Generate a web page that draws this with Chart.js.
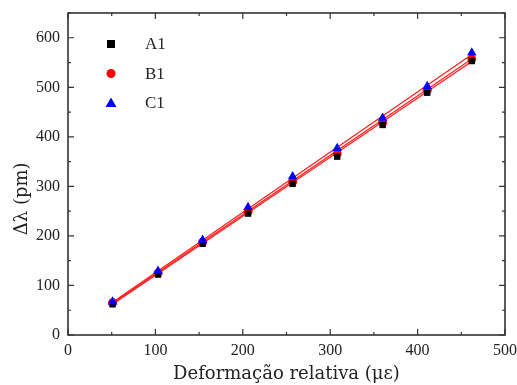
<!DOCTYPE html>
<html>
<head>
<meta charset="utf-8">
<script src="https://cdn.jsdelivr.net/npm/chart.js@4/dist/chart.umd.min.js"></script>
<style>
  html, body { margin: 0; padding: 0; background: #fff; }
  #wrap { width: 517px; height: 385px; position: relative; }
</style>
</head>
<body>
<div id="wrap"><canvas id="c"></canvas></div>
<script>
// ---- data ----
const strain = [51, 103, 154, 206, 257, 308, 360, 411, 462];
const seriesA1 = [62, 122, 184, 245, 305, 360, 424, 489, 553];
const seriesB1 = [65, 125, 187, 249, 309, 366, 429, 494, 557];
const seriesC1 = [67, 129, 192, 258, 320, 377, 438, 502, 570];
// linear fit lines (endpoints)
const fitX = [51, 462];
const fitA1 = [62, 552];
const fitB1 = [64, 557];
const fitC1 = [66, 566];
const seriesNames = ['A1', 'B1', 'C1'];
const xTicks = [0, 100, 200, 300, 400, 500];
const yTicks = [0, 100, 200, 300, 400, 500, 600];
const xTitle = 'Deformação relativa (με)';
const yTitle = 'Δλ (pm)';

const FONT = "'Liberation Serif', 'DejaVu Serif', serif";
const TFONT = "'DejaVu Serif', 'Liberation Serif', serif";
const toPts = (xs, ys) => xs.map((x, i) => ({ x: x, y: ys[i] }));

const fitStyle = { type: 'line', showLine: true, borderColor: '#ff1a1a', borderWidth: 1.2, pointRadius: 0, fill: false, order: 2 };

const data = {
  datasets: [
    Object.assign({ label: 'fitA1', data: toPts(fitX, fitA1) }, fitStyle),
    Object.assign({ label: 'fitB1', data: toPts(fitX, fitB1) }, fitStyle),
    Object.assign({ label: 'fitC1', data: toPts(fitX, fitC1) }, fitStyle),
    { type: 'scatter', label: seriesNames[0], data: toPts(strain, seriesA1), pointStyle: 'rect', pointRadius: 4.5, backgroundColor: '#000', borderColor: '#000', borderWidth: 0, order: 1 },
    { type: 'scatter', label: seriesNames[1], data: toPts(strain, seriesB1), pointStyle: 'circle', pointRadius: 4.5, backgroundColor: '#ff0000', borderColor: '#ff0000', borderWidth: 0, order: 1 },
    { type: 'scatter', label: seriesNames[2], data: toPts(strain, seriesC1), pointStyle: 'triangle', pointRadius: 5.5, backgroundColor: '#0000ff', borderColor: '#0000ff', borderWidth: 0, order: 0 }
  ]
};

const framePlugin = {
  id: 'frame',
  afterDatasetsDraw(chart) {
    const ctx = chart.ctx, a = chart.chartArea;
    const xs = chart.scales.x, ys = chart.scales.y;
    ctx.save();
    ctx.strokeStyle = '#333';
    ctx.lineWidth = 1.6;
    ctx.strokeRect(a.left, a.top, a.right - a.left, a.bottom - a.top);
    ctx.lineWidth = 1.2;
    ctx.beginPath();
    for (let v = 0; v <= 500; v += 50) {
      const p = xs.getPixelForValue(v);
      const L = (v % 100 === 0) ? 6 : 3;
      ctx.moveTo(p, a.bottom); ctx.lineTo(p, a.bottom - L);
      ctx.moveTo(p, a.top); ctx.lineTo(p, a.top + L);
    }
    for (let v = 0; v <= 650; v += 50) {
      const p = ys.getPixelForValue(v);
      const L = (v % 100 === 0) ? 6 : 3;
      ctx.moveTo(a.left, p); ctx.lineTo(a.left + L, p);
      ctx.moveTo(a.right, p); ctx.lineTo(a.right - L, p);
    }
    ctx.stroke();
    // y-axis title (placed as in the reference, slightly below centre)
    ctx.save();
    ctx.translate(22, ys.getPixelForValue(275));
    ctx.rotate(-Math.PI / 2);
    ctx.font = '18px ' + TFONT;
    ctx.fillStyle = '#222';
    ctx.textAlign = 'center';
    ctx.textBaseline = 'middle';
    ctx.fillText(yTitle, 0, 0);
    ctx.restore();
    // legend inside plot
    const ds = chart.data.datasets.slice(3);
    ctx.font = '17px ' + FONT;
    ctx.textBaseline = 'middle';
    ctx.textAlign = 'left';
    ds.forEach((d, i) => {
      const y = 44 + i * 29.5;
      const x = 111;
      ctx.fillStyle = d.backgroundColor;
      ctx.beginPath();
      if (d.pointStyle === 'rect') {
        ctx.fillRect(x - 4, y - 4, 8, 8);
      } else if (d.pointStyle === 'circle') {
        ctx.arc(x, y, 4.5, 0, Math.PI * 2); ctx.fill();
      } else {
        ctx.moveTo(x, y - 5.5); ctx.lineTo(x + 5.5, y + 4); ctx.lineTo(x - 5.5, y + 4); ctx.closePath(); ctx.fill();
      }
      ctx.fillStyle = '#222';
      ctx.fillText(d.label, 145, y + 1);
    });
    ctx.restore();
  }
};

new Chart(document.getElementById('c'), {
  type: 'scatter',
  data: data,
  options: {
    responsive: true,
    maintainAspectRatio: false,
    animation: false,
    layout: { padding: { left: 0, right: 12, top: 13, bottom: 0 } },
    plugins: { legend: { display: false }, tooltip: { enabled: false } },
    scales: {
      x: {
        type: 'linear', min: 0, max: 500,
        afterBuildTicks(s) { s.ticks = xTicks.map(v => ({ value: v })); },
        afterFit(s) { s.height = 50; s.paddingLeft = 0; s.paddingRight = 0; },
        grid: { display: false, drawTicks: false },
        border: { display: false },
        ticks: { color: '#222', font: { family: FONT, size: 16 }, padding: 6 },
        title: { display: true, text: xTitle, color: '#222', font: { family: TFONT, size: 18 }, padding: { top: 0, bottom: 0 } }
      },
      y: {
        type: 'linear', min: 0, max: 650,
        afterBuildTicks(s) { s.ticks = yTicks.map(v => ({ value: v })); },
        afterFit(s) { s.width = 68; s.paddingTop = 0; s.paddingBottom = 0; },
        grid: { display: false, drawTicks: false },
        border: { display: false },
        ticks: { color: '#222', font: { family: FONT, size: 16 }, padding: 8 },
        title: { display: false }
      }
    }
  },
  plugins: [framePlugin]
});
</script>
</body>
</html>
